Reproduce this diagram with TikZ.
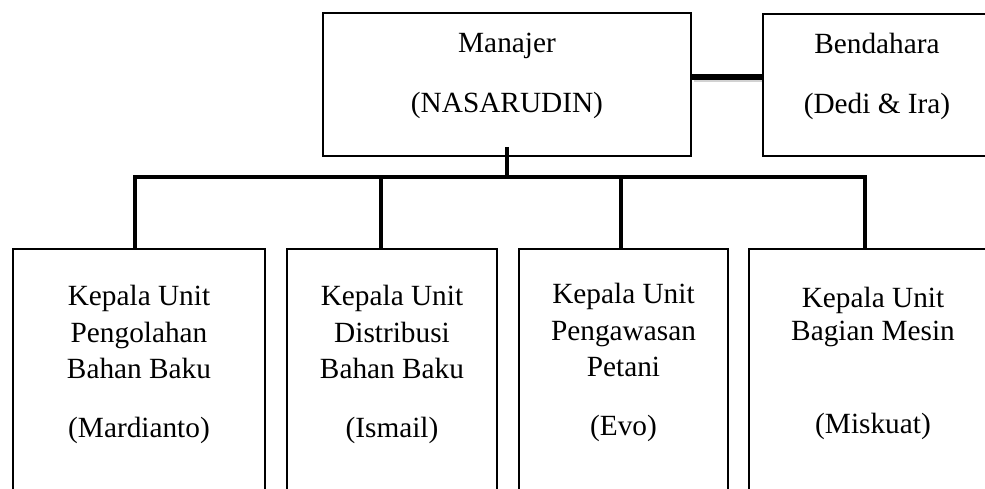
\documentclass[tikz,border=0pt]{standalone}
\usepackage{fontspec}
\setmainfont{Liberation Serif}
\usetikzlibrary{positioning}

\begin{document}
\begin{tikzpicture}[x=1pt,y=-1pt]
    \tikzstyle{box} = [rectangle, draw, line width=2pt, anchor=north west, inner sep=0pt]
    \tikzstyle{txt} = [align=center, inner sep=0pt, font=\fontsize{29.3}{36.5}\selectfont]
    \tikzstyle{link} = [line width=3.5pt, line cap=rect]

    \clip (0,0) rectangle (985,489);

    % Manajer
    \node [box, minimum width=368pt, minimum height=143pt] (manajer) at (322,12) {};
    \node [txt, below=21pt of manajer.north] (manajertxt) {Manajer\\[23.5pt](NASARUDIN)};

    % Bendahara
    \node [box, minimum width=228pt, minimum height=142pt] (bendahara) at (762,13) {};
    \node [txt, below=20pt of bendahara.north] (bendaharatxt) {Bendahara\\[23.5pt](Dedi \& Ira)};

    % Kepala unit
    \node [box, minimum width=252pt, minimum height=300pt] (unit1) at (12,248) {};
    \node [txt, below=37pt of unit1.north] (unit1txt) {Kepala Unit\\Pengolahan\\Bahan Baku\\[22.5pt](Mardianto)};

    \node [box, minimum width=210pt, minimum height=300pt] (unit2) at (286,248) {};
    \node [txt, below=37pt of unit2.north] (unit2txt) {Kepala Unit\\Distribusi\\Bahan Baku\\[22.5pt](Ismail)};

    \node [box, minimum width=209pt, minimum height=300pt] (unit3) at (518,248) {};
    \node [txt, below=35pt of unit3.north] (unit3txt) {Kepala Unit\\Pengawasan\\Petani\\[22.5pt](Evo)};

    \node [box, minimum width=248pt, minimum height=300pt] (unit4) at (748,248) {};
    \node [txt, below=39pt of unit4.north] (unit4txt) {Kepala Unit\\[-3.5pt]Bagian Mesin\\[56.5pt](Miskuat)};

    % Garis
    \coordinate (bus) at (508,177);
    \draw [gray!35, line width=6pt] ([xshift=2pt,yshift=5.5pt]manajer.east) -- ([yshift=5.5pt]manajer.east -| bendahara.west);
    \draw [line width=6.5pt] ([yshift=7.5pt]manajer.east) -- ([yshift=7.5pt]manajer.east -| bendahara.west);
    \draw [link, line cap=butt] ([yshift=10pt]manajer.south) -- (manajer.south |- bus);
    \draw [link] ([xshift=-4pt]unit1.north) -- ([xshift=-4pt]unit1.north |- bus) -- ([xshift=-8pt]unit4.north |- bus) -- ([xshift=-8pt]unit4.north);
    \draw [link] ([xshift=-11pt]unit2.north |- bus) -- ([xshift=-11pt]unit2.north);
    \draw [link] ([xshift=-2.5pt]unit3.north |- bus) -- ([xshift=-2.5pt]unit3.north);

\end{tikzpicture}
\end{document}
